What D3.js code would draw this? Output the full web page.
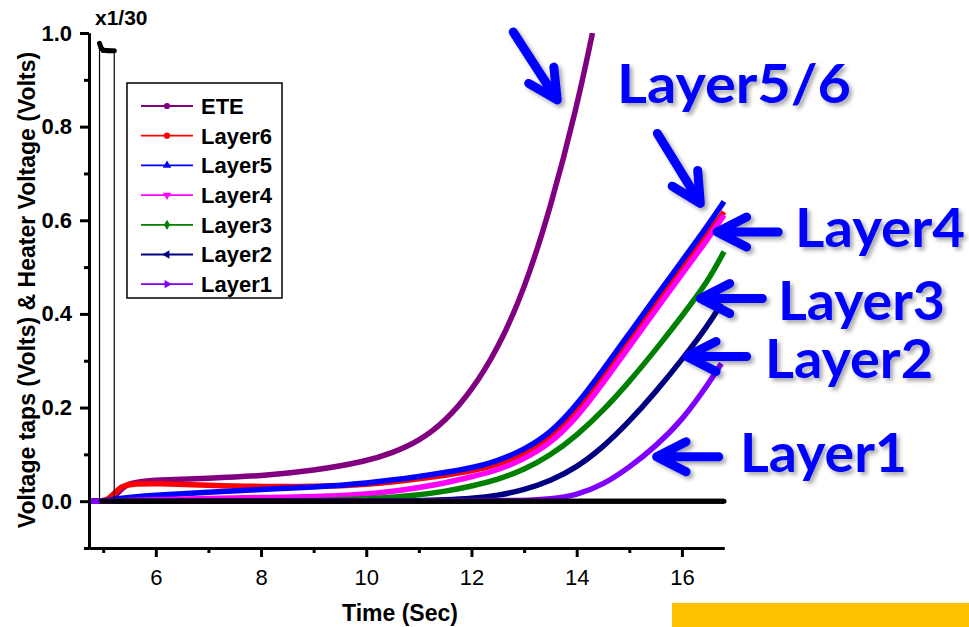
<!DOCTYPE html>
<html>
<head>
<meta charset="utf-8">
<script src="https://cdn.jsdelivr.net/npm/d3@7"></script>
<style>
  body { margin: 0; background: #fff; }
  svg { display: block; }
</style>
</head>
<body>
<div id="chart"></div>
<script>
// values (time in s, voltage in V)
const eteT = [4.75, 5.0, 5.1, 5.2, 5.3, 5.45, 5.7, 6.0, 7.0, 8.0, 9.0, 10.0, 10.5, 11.0, 11.5, 12.0, 12.5, 13.0, 13.5, 14.0, 14.3];
const eteV = [0, 0.001, 0.003, 0.008, 0.02, 0.037, 0.042, 0.045, 0.049, 0.054, 0.065, 0.085, 0.103, 0.128, 0.17, 0.235, 0.325, 0.45, 0.625, 0.84, 1.0];

const layer6T = [4.75, 5.0, 5.1, 5.2, 5.35, 5.6, 6.0, 7.0, 8.0, 9.0, 10.0, 11.0, 12.0, 12.5, 13.0, 13.5, 14.0, 14.5, 15.0, 15.5, 16.0, 16.5, 16.8];
const layer6V = [0, 0, 0.005, 0.015, 0.033, 0.037, 0.038, 0.034, 0.031, 0.031, 0.035, 0.047, 0.064, 0.078, 0.1, 0.137, 0.19, 0.265, 0.343, 0.42, 0.497, 0.573, 0.618];

const layer5T = [4.75, 5.0, 5.2, 5.5, 6.0, 7.0, 8.0, 9.0, 10.0, 11.0, 12.0, 12.5, 13.0, 13.5, 14.0, 14.5, 15.0, 15.5, 16.0, 16.5, 16.8];
const layer5V = [0, 0, 0.004, 0.008, 0.013, 0.019, 0.025, 0.03, 0.038, 0.052, 0.07, 0.086, 0.11, 0.145, 0.205, 0.28, 0.358, 0.436, 0.513, 0.59, 0.64];

const layer4T = [4.75, 5.0, 6.0, 7.0, 8.0, 9.0, 10.0, 10.5, 11.0, 11.5, 12.0, 12.5, 13.0, 13.5, 14.0, 14.5, 15.0, 15.5, 16.0, 16.5, 16.8];
const layer4V = [0, 0, 0.003, 0.006, 0.008, 0.009, 0.015, 0.021, 0.029, 0.039, 0.052, 0.066, 0.09, 0.123, 0.178, 0.252, 0.33, 0.408, 0.485, 0.561, 0.611];

const layer3T = [4.75, 8.0, 9.0, 10.0, 11.0, 11.5, 12.0, 12.5, 13.0, 13.5, 14.0, 14.5, 15.0, 15.5, 16.0, 16.5, 16.8];
const layer3V = [0, 0, 0.001, 0.004, 0.013, 0.021, 0.032, 0.046, 0.067, 0.098, 0.14, 0.193, 0.255, 0.323, 0.395, 0.47, 0.533];

const layer2T = [4.75, 10.0, 11.0, 11.5, 12.0, 12.5, 13.0, 13.5, 14.0, 14.5, 15.0, 15.5, 16.0, 16.5, 16.75];
const layer2V = [0, 0, 0.001, 0.003, 0.006, 0.012, 0.024, 0.043, 0.072, 0.115, 0.17, 0.233, 0.302, 0.376, 0.422];

const layer1T = [4.75, 12.0, 13.0, 13.5, 14.0, 14.5, 15.0, 15.5, 16.0, 16.5, 16.75];
const layer1V = [0, 0, 0.001, 0.004, 0.013, 0.035, 0.072, 0.117, 0.172, 0.25, 0.294];

// heater voltage, plotted x1/30
const heaterT = [4.93, 4.93, 4.96, 5.0, 5.1, 5.21, 5.21, 16.8];
const heaterV = [0, 0.978, 0.968, 0.963, 0.962, 0.962, 0, 0];

const seriesNames = ['ETE', 'Layer6', 'Layer5', 'Layer4', 'Layer3', 'Layer2', 'Layer1'];
const seriesColors = ['#800080', '#ff0000', '#0000ff', '#ff00ff', '#008000', '#000080', '#8000ff'];
const seriesT = [eteT, layer6T, layer5T, layer4T, layer3T, layer2T, layer1T];
const seriesV = [eteV, layer6V, layer5V, layer4V, layer3V, layer2V, layer1V];

const xMajor = [6, 8, 10, 12, 14, 16];
const xMinor = [5, 7, 9, 11, 13, 15];
const yMajor = [0, 0.2, 0.4, 0.6, 0.8, 1.0];
const yMinor = [-0.1, 0.1, 0.3, 0.5, 0.7, 0.9];

// call-outs: tip in data units, tail offset and label in px
const callouts = [
    { t: 13.63, v: 0.857, dx: -44, dy: -68 },
    { t: 16.35, v: 0.636, dx: -43, dy: -70, label: 'Layer5/6', lx: 617, ly: 103, lw: 234 },
    { t: 16.67, v: 0.575, dx: 61, dy: 0, label: 'Layer4', lx: 795, ly: 247, lw: 170 },
    { t: 16.35, v: 0.433, dx: 62, dy: 0, label: 'Layer3', lx: 778, ly: 320, lw: 167 },
    { t: 16.09, v: 0.309, dx: 60, dy: 0, label: 'Layer2', lx: 765, ly: 378, lw: 168 },
    { t: 15.52, v: 0.095, dx: 62, dy: 0, label: 'Layer1', lx: 740, ly: 472, lw: 167 }
];

const width = 969;
const height = 627;
const font = '"Liberation Sans", Arial, sans-serif';

const x = d3.scaleLinear().domain([4.73, 16.8]).range([89, 724]);
const y = d3.scaleLinear().domain([-0.1, 1.0]).range([548, 33]);

const svg = d3.select('#chart')
    .append('svg')
    .attr('width', width)
    .attr('height', height);

const defs = svg.append('defs');
defs.append('clipPath')
    .attr('id', 'plotClip')
    .append('rect')
    .attr('x', x.range()[0])
    .attr('y', y.range()[1])
    .attr('width', x.range()[1] - x.range()[0] + 4)
    .attr('height', y.range()[0] - y.range()[1]);

defs.append('filter')
    .attr('id', 'shadow')
    .attr('x', '-20%').attr('y', '-20%')
    .attr('width', '140%').attr('height', '140%')
    .append('feDropShadow')
    .attr('dx', 3).attr('dy', 3)
    .attr('stdDeviation', 2)
    .attr('flood-color', '#000')
    .attr('flood-opacity', 0.35);

// curves
const line = d3.line()
    .x(d => x(d[0]))
    .y(d => y(d[1]))
    .curve(d3.curveBasis);

const plot = svg.append('g').attr('clip-path', 'url(#plotClip)');

seriesNames.forEach((name, i) => {
    const pts = seriesT[i].map((t, j) => [t, seriesV[i][j]]);
    plot.append('path')
        .attr('class', 'series')
        .attr('d', line(pts))
        .attr('fill', 'none')
        .attr('stroke', seriesColors[i])
        .attr('stroke-width', 5.5)
        .attr('stroke-linejoin', 'round');
});

// heater trace: thin edges, thick where points are dense
const heaterPts = heaterT.map((t, j) => [t, heaterV[j]]);
const straight = d3.line().x(d => x(d[0])).y(d => y(d[1]));

plot.append('path')
    .attr('d', straight(heaterPts))
    .attr('fill', 'none')
    .attr('stroke', '#000')
    .attr('stroke-width', 1.2);

for (let i = 0; i < heaterPts.length - 1; i++) {
    if (Math.abs(heaterPts[i + 1][1] - heaterPts[i][1]) > 0.5) continue;
    plot.append('path')
        .attr('d', straight([heaterPts[i], heaterPts[i + 1]]))
        .attr('fill', 'none')
        .attr('stroke', '#000')
        .attr('stroke-width', 5)
        .attr('stroke-linecap', 'round');
}
plot.append('path')
    .attr('d', straight([[heaterT[0], 0], [heaterT[heaterT.length - 1], 0]]))
    .attr('fill', 'none')
    .attr('stroke', '#000')
    .attr('stroke-width', 5);

svg.append('text')
    .attr('x', 95)
    .attr('y', 25)
    .attr('font-family', font)
    .attr('font-weight', 'bold')
    .attr('font-size', 21)
    .text('x1/30');

// axes
function styleAxis(g) {
    g.select('.domain').attr('stroke-width', 3);
    g.selectAll('.tick line').attr('stroke-width', 3);
}

svg.append('g')
    .attr('transform', 'translate(0,' + y.range()[0] + ')')
    .call(d3.axisBottom(x).tickValues(xMinor).tickSize(5).tickFormat('').tickSizeOuter(0))
    .call(styleAxis);

const xAxis = svg.append('g')
    .attr('transform', 'translate(0,' + y.range()[0] + ')')
    .call(d3.axisBottom(x).tickValues(xMajor).tickSize(9).tickPadding(12).tickSizeOuter(0))
    .call(styleAxis);
xAxis.selectAll('text')
    .attr('font-family', font)
    .attr('font-size', 22)
    .attr('fill', '#000');

svg.append('g')
    .attr('transform', 'translate(' + x.range()[0] + ',0)')
    .call(d3.axisLeft(y).tickValues(yMinor).tickSize(5).tickFormat('').tickSizeOuter(0))
    .call(styleAxis);

const yAxis = svg.append('g')
    .attr('transform', 'translate(' + x.range()[0] + ',0)')
    .call(d3.axisLeft(y).tickValues(yMajor).tickSize(9).tickPadding(8).tickFormat(d3.format('.1f')).tickSizeOuter(0))
    .call(styleAxis);
yAxis.selectAll('text')
    .attr('font-family', font)
    .attr('font-weight', 'bold')
    .attr('font-size', 22)
    .attr('fill', '#000');

svg.append('text')
    .attr('transform', 'translate(35,290) rotate(-90)')
    .attr('text-anchor', 'middle')
    .attr('font-family', font)
    .attr('font-weight', 'bold')
    .attr('font-size', 23)
    .text('Voltage taps (Volts) & Heater Voltage (Volts)');

svg.append('text')
    .attr('x', 400)
    .attr('y', 621)
    .attr('text-anchor', 'middle')
    .attr('font-family', font)
    .attr('font-weight', 'bold')
    .attr('font-size', 23)
    .text('Time (Sec)');

// legend
const legend = svg.append('g');
legend.append('rect')
    .attr('x', 127).attr('y', 83)
    .attr('width', 155).attr('height', 215)
    .attr('fill', '#fff')
    .attr('stroke', '#000')
    .attr('stroke-width', 1.5);

const markers = [
    { type: d3.symbolCircle, rot: 0 },
    { type: d3.symbolCircle, rot: 0 },
    { type: d3.symbolTriangle, rot: 0 },
    { type: d3.symbolTriangle, rot: 180 },
    { type: d3.symbolDiamond, rot: 0 },
    { type: d3.symbolTriangle, rot: -90 },
    { type: d3.symbolTriangle, rot: 90 }
];

seriesNames.forEach((name, i) => {
    const g = legend.append('g')
        .attr('transform', 'translate(0,' + (106 + i * 29.7) + ')');
    g.append('line')
        .attr('x1', 141).attr('x2', 193)
        .attr('stroke', seriesColors[i])
        .attr('stroke-width', 1.8);
    g.append('path')
        .attr('d', d3.symbol().type(markers[i].type).size(30)())
        .attr('transform', 'translate(167,0) rotate(' + markers[i].rot + ')')
        .attr('fill', seriesColors[i]);
    g.append('text')
        .attr('x', 201)
        .attr('dy', '0.36em')
        .attr('font-family', font)
        .attr('font-weight', 'bold')
        .attr('font-size', 22)
        .text(name);
});

// call-out arrows and labels
const notes = svg.append('g').attr('filter', 'url(#shadow)');
const headLen = 33;
const headAng = 27 * Math.PI / 180;

callouts.forEach(c => {
    const tx = x(c.t);
    const ty = y(c.v);
    const len = Math.hypot(c.dx, c.dy);
    const ux = c.dx / len;
    const uy = c.dy / len;
    const arm = a => [
        tx + headLen * (ux * Math.cos(a) - uy * Math.sin(a)),
        ty + headLen * (ux * Math.sin(a) + uy * Math.cos(a))
    ];
    const a1 = arm(headAng);
    const a2 = arm(-headAng);
    notes.append('path')
        .attr('d', 'M' + (tx + c.dx) + ',' + (ty + c.dy) + 'L' + tx + ',' + ty +
            'M' + a1[0] + ',' + a1[1] + 'L' + tx + ',' + ty + 'L' + a2[0] + ',' + a2[1])
        .attr('fill', 'none')
        .attr('stroke', '#0000ff')
        .attr('stroke-width', 9)
        .attr('stroke-linecap', 'round')
        .attr('stroke-linejoin', 'round');
    if (c.label) {
        notes.append('text')
            .attr('x', c.lx)
            .attr('y', c.ly)
            .attr('textLength', c.lw)
            .attr('lengthAdjust', 'spacingAndGlyphs')
            .attr('font-family', 'Lato, "Open Sans", sans-serif')
            .attr('font-weight', 'bold')
            .attr('font-size', 54)
            .attr('fill', '#0000ff')
            .text(c.label);
    }
});

svg.append('rect')
    .attr('x', 672).attr('y', 603)
    .attr('width', 297).attr('height', 24)
    .attr('fill', '#ffc000');
</script>
</body>
</html>
